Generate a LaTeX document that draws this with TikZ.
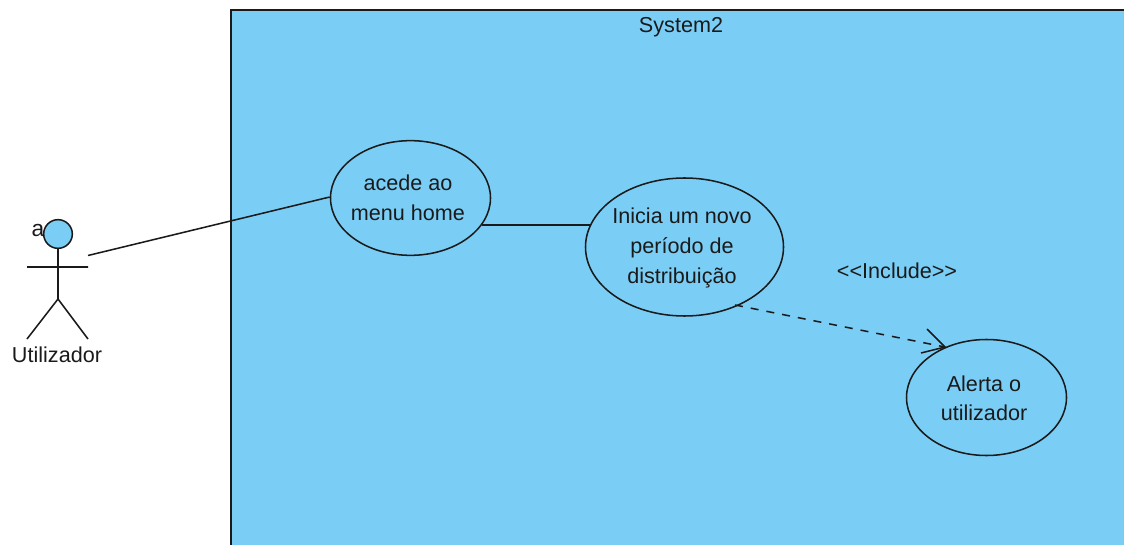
\documentclass[tikz,border=0pt]{standalone}
\usepackage{fontspec}
\setmainfont{Liberation Sans}
\definecolor{sysblue}{HTML}{7ACEF6}
\definecolor{ink}{HTML}{1A1A1A}
\usetikzlibrary{shapes.geometric}
\tikzset{
 usecase/.style={draw=ink,line width=1.15pt,ellipse,fill=sysblue,inner sep=0pt},
 lbl/.style={inner sep=0pt,font=\fontsize{16.2pt}{18pt}\selectfont,text=ink,align=center},
 inlbl/.style={lbl,font=\fontsize{16.2pt}{22.5pt}\selectfont},
 conn/.style={draw=ink,line width=1.15pt}
}
\begin{document}
\begin{tikzpicture}[x=0.75pt,y=-0.75pt]
\useasboundingbox (0,0) rectangle (1124,545);
\node[fill=white,minimum width=843pt,minimum height=408.75pt,anchor=north west,inner sep=0pt] (bg) at (0,0) {};
\fill[sysblue] (231,10) rectangle (1124,545);
\draw[conn] (231,545) -- (231,10) -- (1124,10);
\node[lbl] (sys) at (681,27) {System2};
\node[usecase,minimum width=120pt,minimum height=86pt] (u1) at (410.5,198) {};
\node[inlbl] (u1t) at (408,198) {acede ao\\menu home};
\node[usecase,minimum width=148.5pt,minimum height=103.5pt] (u2) at (684.5,247) {};
\node[inlbl] (u2t) at (682,247.5) {Inicia um novo\\período de\\distribuição};
\node[usecase,minimum width=120pt,minimum height=87pt] (u3) at (986.5,397.5) {};
\node[inlbl,font=\fontsize{16.2pt}{22pt}\selectfont] (u3t) at (984,398) {Alerta o\\utilizador};
\node[draw=ink,line width=1.15pt,circle,fill=sysblue,minimum size=21.5pt,inner sep=0pt] (head) at (58,234) {};
\coordinate (neck) at (58,249);
\coordinate (hip) at (58,299);
\coordinate (armL) at (27,267);
\coordinate (armR) at (88,267);
\coordinate (legL) at (27,339);
\coordinate (legR) at (88,339);
\draw[conn] (neck) -- (hip) (armL) -- (armR) (legL) -- (hip) -- (legR);
\node[lbl,font=\fontsize{17pt}{18pt}\selectfont] (a) at (38,231) {a};
\node[lbl] (actor) at (57,355) {Utilizador};
\coordinate (start) at (88,255.5);
\draw[conn] (start) -- (u1.west |- 0,197);
\coordinate (u1e) at (482,225);
\coordinate (u2w) at (590,225);
\draw[conn] (u1e) -- (u2w);
\coordinate (ds) at (735,305);
\coordinate (de) at (945,347);
\draw[conn,dash pattern=on 6pt off 6pt] (ds) -- (de);
\coordinate (t1) at (927,329);
\coordinate (t2) at (921,353);
\draw[conn] (t1) -- (de) -- (t2);
\node[lbl] (inc) at (897,271) {<{}<Include>{}>};
\end{tikzpicture}
\end{document}
